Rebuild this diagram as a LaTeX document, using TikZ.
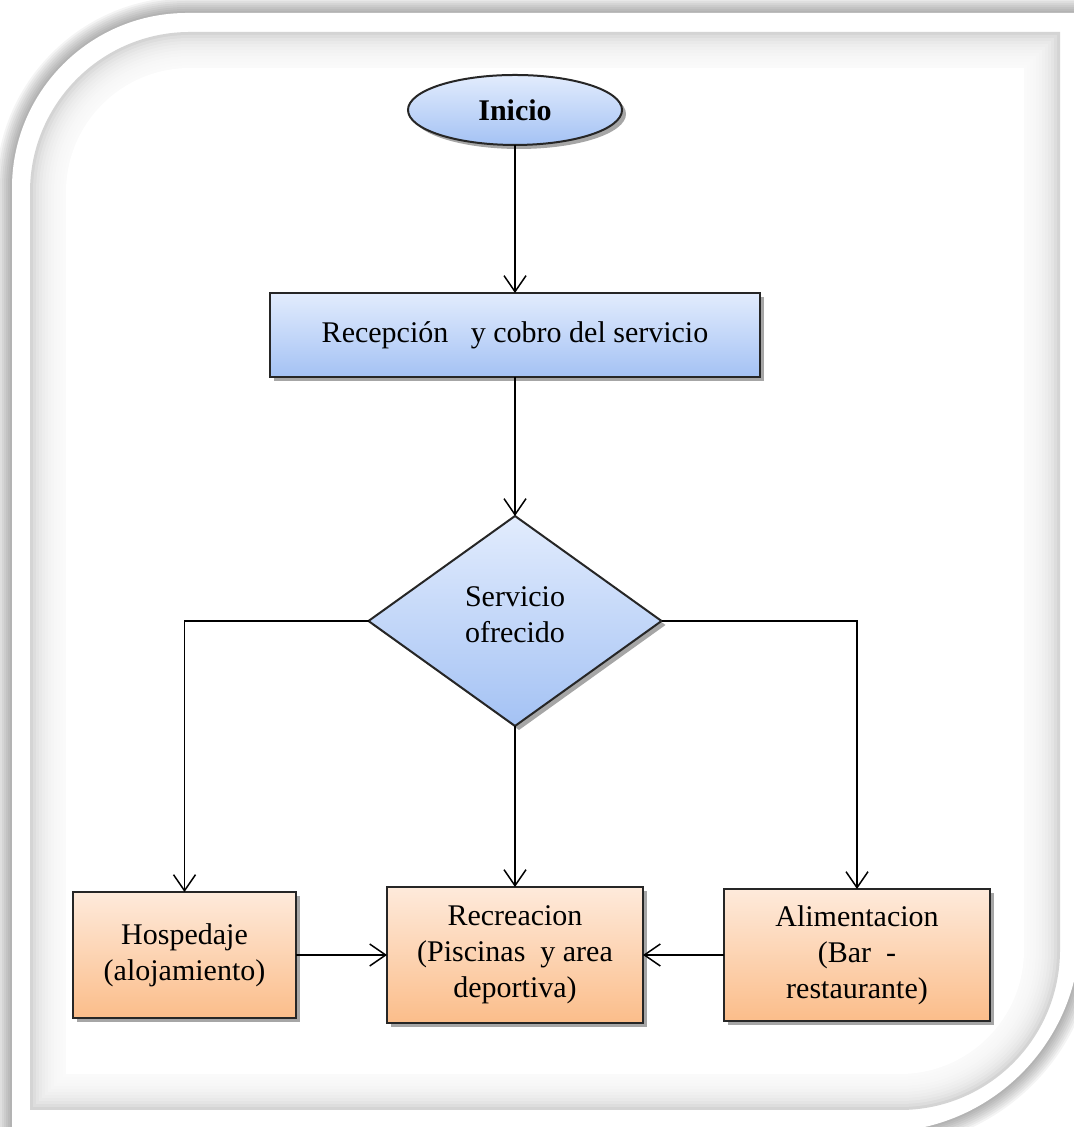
\documentclass[tikz,border=0pt]{standalone}
\usepackage{fontspec}
\setmainfont{Liberation Serif}
\usetikzlibrary{positioning, arrows.meta, shapes.geometric, shadows}
\definecolor{flowBlueTop}{RGB}{226,236,253}
\definecolor{flowBlueBot}{RGB}{164,194,244}
\definecolor{flowOrangeTop}{RGB}{254,234,219}
\definecolor{flowOrangeBot}{RGB}{251,189,138}
% frame outline: left, bottom, right, top, top-left radius, bottom-right radius
\newcommand{\framepath}[6]{(#1,#2) -- (#1,{(#4)-(#5)}) arc[start angle=180, end angle=90, radius=#5]
  -- (#3,#4) -- (#3,{(#2)+(#6)}) arc[start angle=0, end angle=-90, radius=#6] -- cycle}

\begin{document}
\begin{tikzpicture}[
    x=0.5pt, y=0.5pt,
    font=\fontsize{15}{18}\selectfont,
    base/.style={draw=black!85, line width=1pt, align=center, inner sep=2pt, outer sep=0pt,
                 drop shadow={shadow xshift=2pt, shadow yshift=-2pt, opacity=0.35, fill=black}},
    startnode/.style={base, ellipse, top color=flowBlueTop, bottom color=flowBlueBot,
                      minimum width=107pt, minimum height=35pt, font=\fontsize{15}{18}\selectfont\bfseries},
    procbox/.style={base, rectangle, top color=flowBlueTop, bottom color=flowBlueBot},
    decnode/.style={base, diamond, top color=flowBlueTop, bottom color=flowBlueBot,
                    inner sep=0pt, minimum width=146.5pt, minimum height=105pt},
    optbox/.style={base, rectangle, top color=flowOrangeTop, bottom color=flowOrangeBot},
    arr/.style={-{Straight Barb[length=8pt, width=11pt]}, line width=0.75pt},
  ]
    \useasboundingbox (0,0) rectangle (1073,1127);
    % background frame
    \foreach \d in {16,14,...,2}
      \fill[black, opacity=0.045] \framepath{12-\d}{-5-\d}{1080+\d}{1114+\d}{175+\d}{200+\d};
    \fill[white] \framepath{12}{-5}{1080}{1114}{175}{200};
    \fill[black!17] \framepath{30}{17}{1060}{1095}{160}{160};
    \foreach \d in {3,6,...,33}
      \fill[white, opacity=0.22] \framepath{30+\d}{17+\d}{1060-\d}{1095-\d}{160-\d}{160-\d};
    \fill[white] \framepath{66}{53}{1024}{1059}{124}{124};

    \node[startnode] (ini) at (515,1017) {Inicio};
    \node[procbox, minimum width=245pt, minimum height=42pt, below=74pt of ini] (rec) {Recepción\ \ \ y cobro del servicio};
    \node[decnode, below=69.5pt of rec] (dec) {Servicio\\ofrecido\\[-12pt]};
    \node[optbox, minimum width=128pt, minimum height=68pt, below=80.5pt of dec] (rcr) {Recreacion\\(Piscinas\ \ y area\\deportiva)};
    \node[optbox, minimum width=111.5pt, minimum height=63pt, left=45.5pt of rcr] (hos) {Hospedaje\\(alojamiento)};
    \node[optbox, minimum width=133pt, minimum height=66pt, right=40.5pt of rcr] (ali) {Alimentacion\\(Bar\ \ -\\restaurante)};

    \draw[arr] (ini) -- (rec);
    \draw[arr] (rec) -- (dec);
    \draw[arr] (dec.west) -| (hos);
    \draw[arr] (dec) -- (rcr);
    \draw[arr] (dec.east) -| (ali);
    \draw[arr] (hos) -- (rcr);
    \draw[arr] (ali) -- (rcr);
  \end{tikzpicture}
\end{document}
